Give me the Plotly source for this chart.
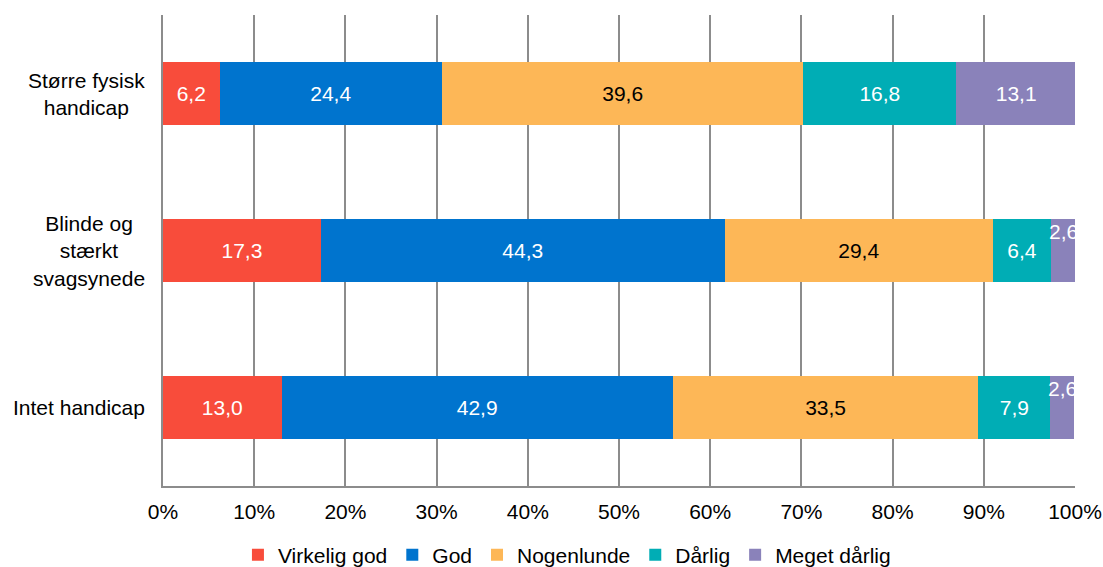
import plotly.graph_objects as go

categories = ["Større fysisk<br>handicap", "Blinde og<br>stærkt<br>svagsynede", "Intet handicap"]
series_names = ["Virkelig god", "God", "Nogenlunde", "Dårlig", "Meget dårlig"]
virkelig_god = [6.2, 17.3, 13.0]
god = [24.4, 44.3, 42.9]
nogenlunde = [39.6, 29.4, 33.5]
daarlig = [16.8, 6.4, 7.9]
meget_daarlig = [13.1, 2.6, 2.6]
tick_values = [0, 10, 20, 30, 40, 50, 60, 70, 80, 90, 100]
tick_labels = ["0%", "10%", "20%", "30%", "40%", "50%", "60%", "70%", "80%", "90%", "100%"]

series_values = [virkelig_god, god, nogenlunde, daarlig, meget_daarlig]
colors = ["#F84C3B", "#0074CE", "#FDB757", "#00ADB5", "#8A82BA"]
text_colors = ["white", "white", "black", "white", "white"]

FONT = "Liberation Sans, Arial, sans-serif"
SIZE = 21


def fmt(v):
    return f"{v:.1f}".replace(".", ",")


fig = go.Figure()

for name, vals, color, tcolor in zip(series_names, series_values, colors, text_colors):
    # small segments get their label as an annotation instead (placed higher)
    labels = [fmt(v) if v >= 5 else "" for v in vals]
    fig.add_trace(
        go.Bar(
            y=categories,
            x=vals,
            name=name,
            orientation="h",
            marker=dict(color=color, line=dict(width=0)),
            text=labels,
            textposition="inside",
            insidetextanchor="middle",
            textangle=0,
            constraintext="none",
            textfont=dict(family=FONT, size=SIZE, color=tcolor),
            hoverinfo="x+name",
        )
    )

cumulative = [0.0] * len(categories)
for vals, tcolor in zip(series_values, text_colors):
    for i, v in enumerate(vals):
        if v < 5:
            fig.add_annotation(
                x=cumulative[i] + v / 2,
                y=categories[i],
                text=fmt(v),
                showarrow=False,
                yshift=19,
                font=dict(family=FONT, size=SIZE, color=tcolor),
            )
        cumulative[i] += v

# category labels, centred multi-line like the original
for cat in categories:
    fig.add_annotation(
        x=0,
        xref="paper",
        y=cat,
        text=cat,
        showarrow=False,
        xanchor="right",
        xshift=-16,
        align="center",
        font=dict(family=FONT, size=SIZE, color="black"),
    )

fig.update_layout(
    barmode="stack",
    bargap=0.605,
    width=1103,
    height=567,
    margin=dict(l=163, r=28, t=15, b=81),
    plot_bgcolor="white",
    paper_bgcolor="white",
    font=dict(family=FONT, size=SIZE, color="black"),
    showlegend=True,
    legend=dict(
        orientation="h",
        xref="container",
        yref="container",
        x=0.514,
        xanchor="center",
        y=0.021,
        yanchor="middle",
        font=dict(family=FONT, size=SIZE, color="black"),
        itemwidth=30,
        traceorder="normal",
    ),
    xaxis=dict(
        range=[0, 100],
        tickvals=tick_values,
        ticktext=tick_labels,
        showgrid=True,
        gridcolor="#8C8C8C",
        gridwidth=1.5,
        showline=True,
        linecolor="#8C8C8C",
        linewidth=1.5,
        zeroline=False,
        ticks="",
        ticklabelstandoff=6,
        automargin=False,
        tickfont=dict(family=FONT, size=SIZE, color="black"),
    ),
    yaxis=dict(
        autorange="reversed",
        showline=True,
        linecolor="#8C8C8C",
        linewidth=1.5,
        showgrid=False,
        ticks="",
        showticklabels=False,
        automargin=False,
    ),
)

fig.write_html(
    "out.html",
    config={"displayModeBar": False},
    post_script="document.body.style.margin='0';",
)
